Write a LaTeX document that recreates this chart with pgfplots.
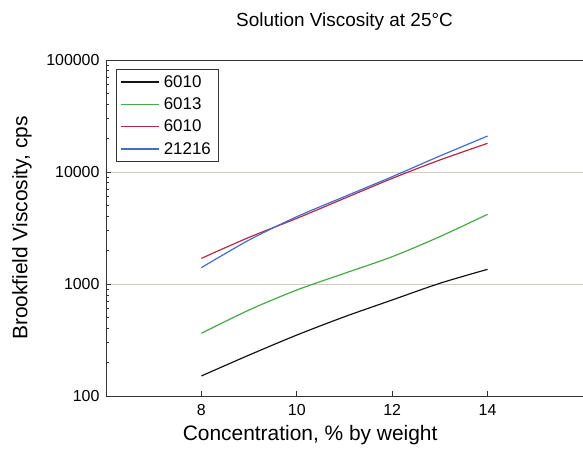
\documentclass[border=0pt]{standalone}
\usepackage{fontspec}
\setmainfont{Liberation Sans}
\usepackage{pgfplots}
\pgfplotsset{compat=1.18}
\definecolor{cblack}{RGB}{20,20,20}
\definecolor{cgreen}{RGB}{70,170,70}
\definecolor{cred}{RGB}{185,40,65}
\definecolor{cblue}{RGB}{65,110,205}
\definecolor{cgrid}{RGB}{205,205,190}
\begin{document}
\begin{tikzpicture}
\begin{axis}[
    scale only axis,
    width=477bp, height=336bp,
    xmin=6, xmax=16,
    ymode=log, ymin=100, ymax=100000,
    xtick={8,10,12,14}, xticklabels={8,10,12,14},
    ytick={100,1000,10000,100000}, yticklabels={100,1000,10000,100000},
    minor tick num=0, minor ytick={},
    tick pos=left, tick align=inside,
    major tick length=5bp,
    ymajorgrids, grid style={cgrid, line width=0.8pt},
    axis line style={line width=0.8pt, black!80},
    tick style={black!80, line width=0.7pt},
    ticklabel style={font=\fontsize{16}{18}\selectfont},
    xticklabel style={yshift=-5bp},
    yticklabel style={xshift=-3bp},
    xlabel={Concentration, \% by weight},
    ylabel={Brookfield Viscosity, cps},
    label style={font=\fontsize{21}{24}\selectfont},
    xlabel style={at={(ticklabel cs:0.428)}, anchor=near ticklabel, yshift=-3bp},
    ylabel style={at={(axis description cs:-0.176,0.5)}, anchor=center},
    title={Solution Viscosity at 25\textdegree C},
    title style={font=\fontsize{19}{21}\selectfont, yshift=20bp},
    legend cell align=left,
    legend style={at={(0,1)}, xshift=10bp, yshift=-9bp, anchor=north west,
        font=\fontsize{17}{19}\selectfont, draw=black!80, line width=0.8pt,
        inner xsep=4bp, inner ysep=4bp, row sep=5bp,
        nodes={inner xsep=4bp}},
    legend image code/.code={\draw[#1, line width=1.4pt] (0bp,0bp) -- (38bp,0bp);},
    every axis plot/.append style={line width=1.2pt, smooth, no marks},
]
\addplot[cblack] coordinates {(8,151) (9,232) (10,350) (11,510) (12,720) (13,1015) (14,1352)};
\addplot[cgreen] coordinates {(8,363) (9,586) (10,884) (11,1245) (12,1753) (13,2650) (14,4190)};
\addplot[cred] coordinates {(8,1695) (9,2610) (10,3855) (11,5820) (12,8770) (13,12800) (14,18030)};
\addplot[cblue] coordinates {(8,1400) (9,2470) (10,3990) (11,6030) (12,9080) (13,13900) (14,20950)};
\legend{6010,6013,6010,21216}
\end{axis}
\pgfresetboundingbox
\path ([xshift=-106bp,yshift=-61bp]current axis.south west) rectangle ([yshift=60bp]current axis.north east);
\end{tikzpicture}
\end{document}
